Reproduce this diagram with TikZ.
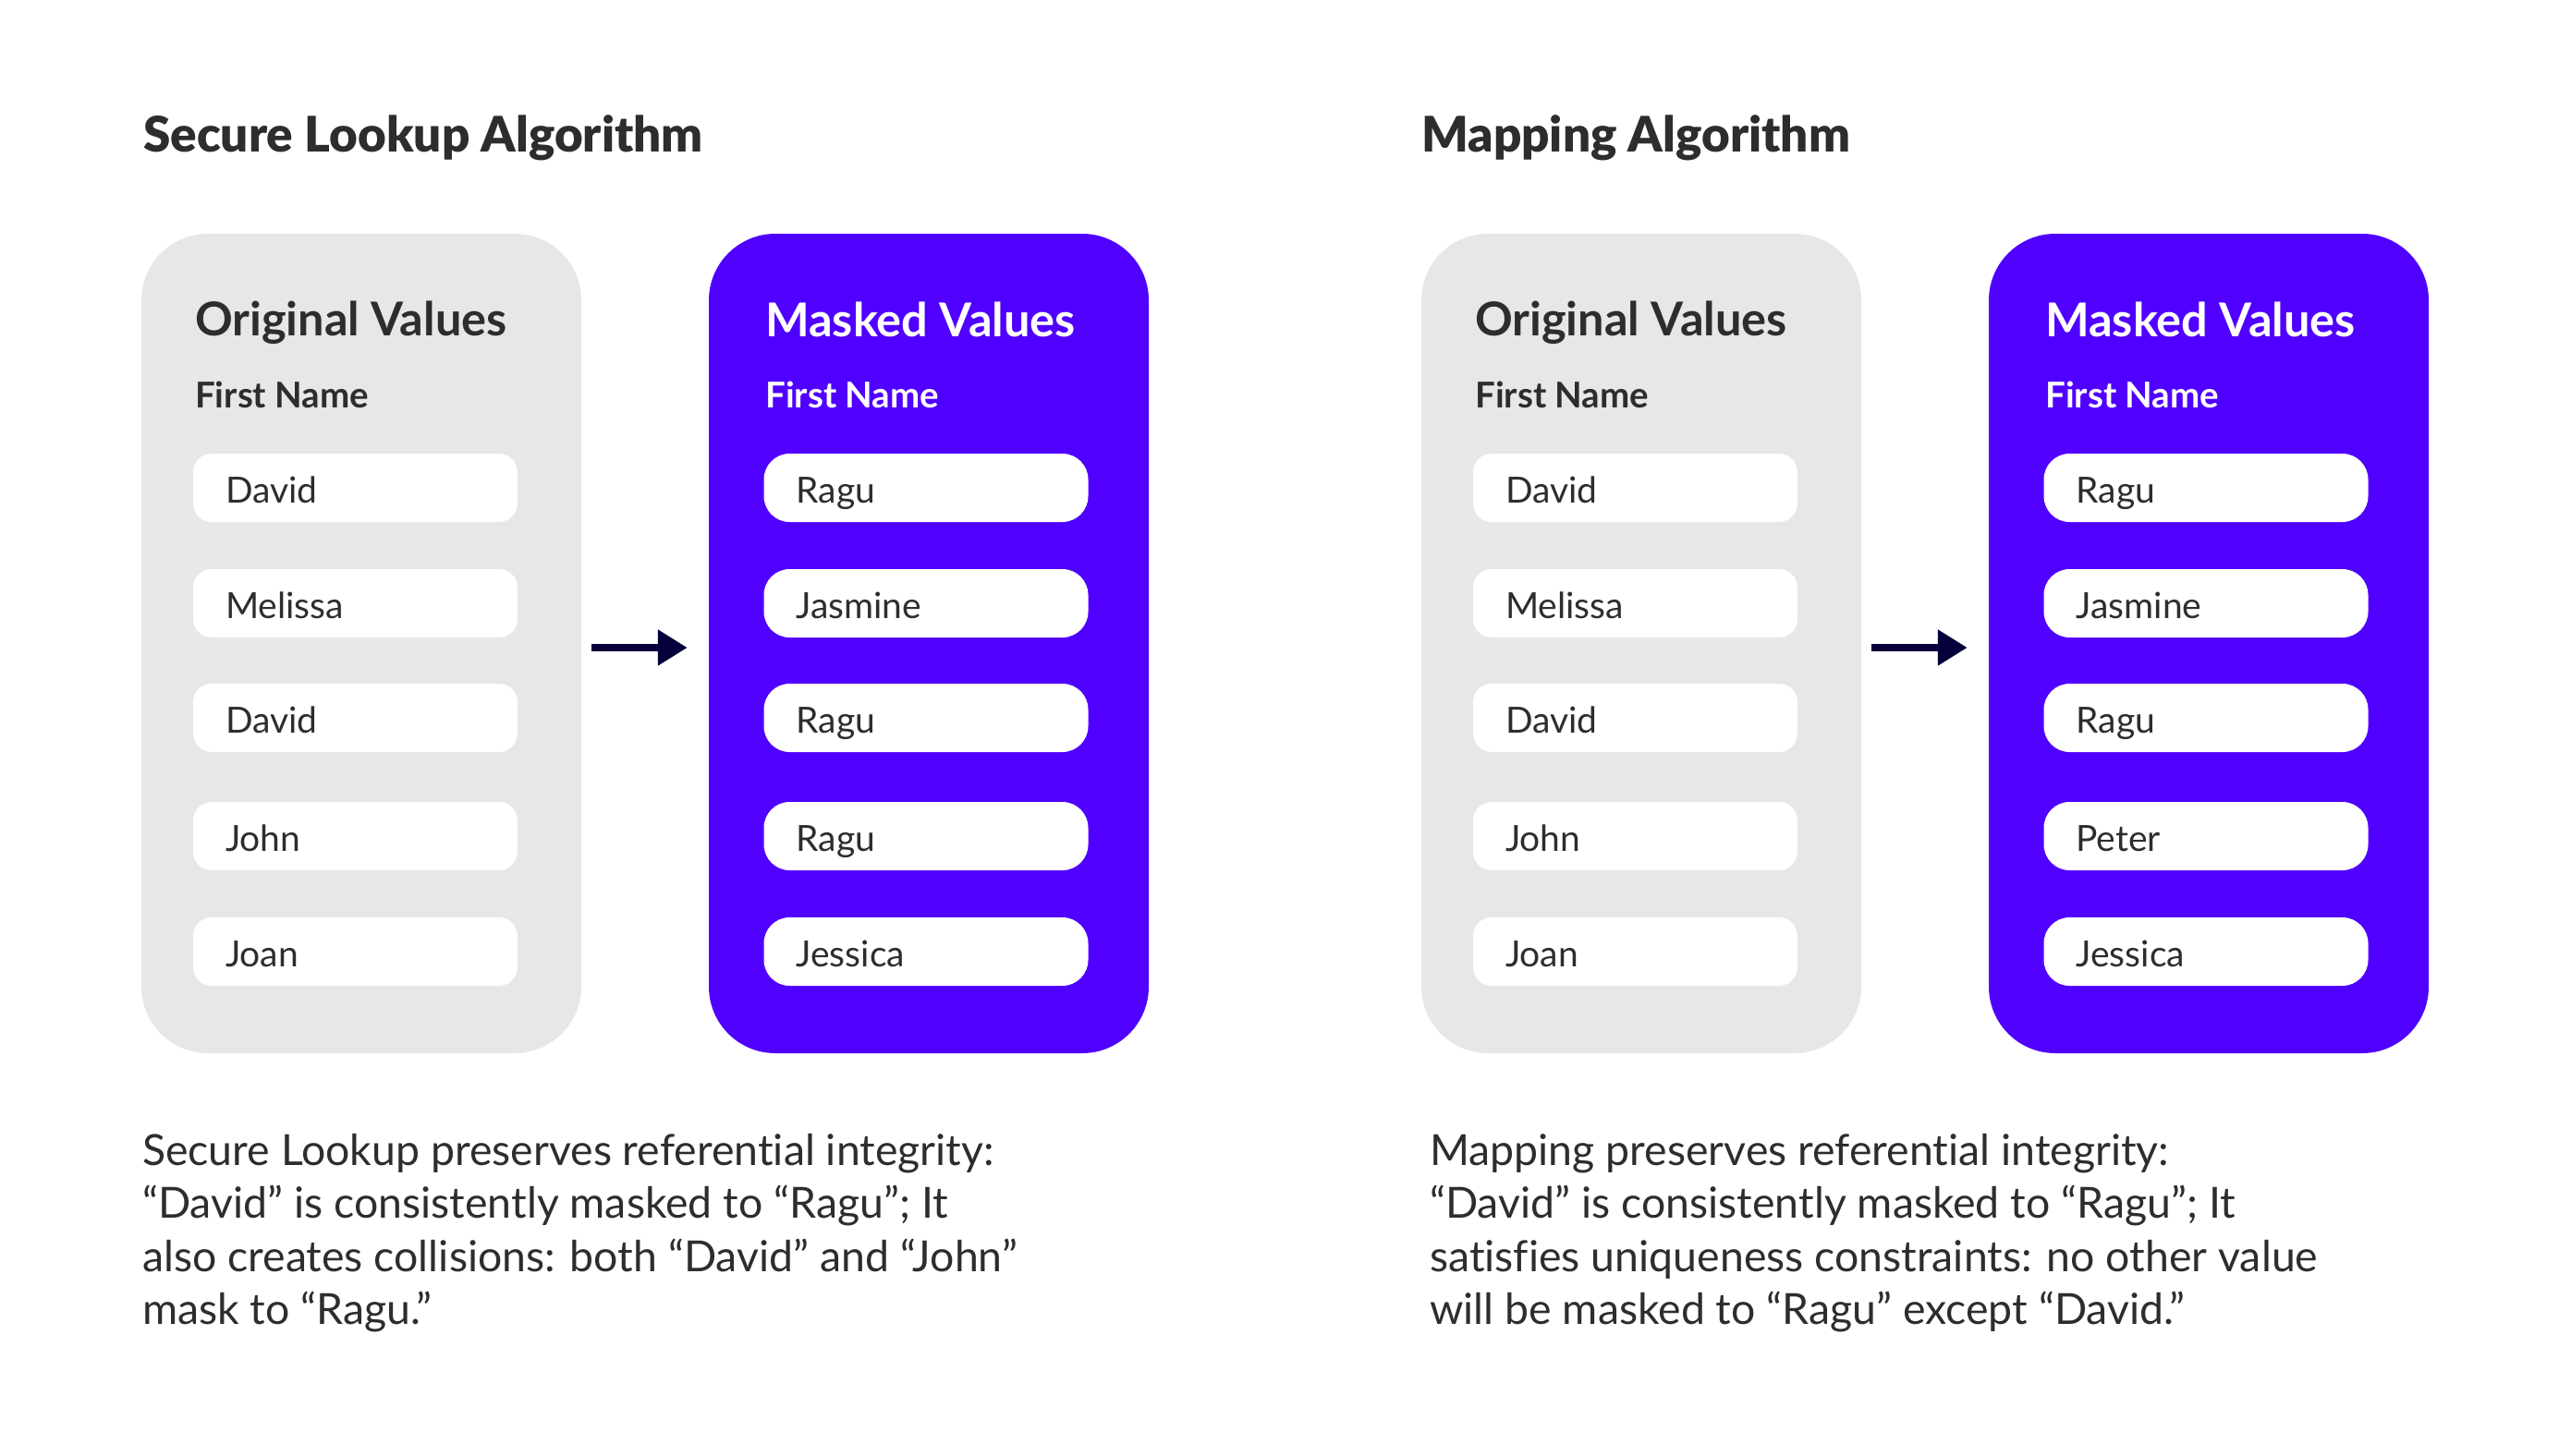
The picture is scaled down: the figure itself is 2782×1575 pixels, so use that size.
\documentclass[tikz,border=0pt]{standalone}
\usepackage{fontspec}
\setmainfont{Lato}[Ligatures={TeX,NoCommon}]
\newfontfamily\heavyfont{Lato Black}[Ligatures={TeX,NoCommon}]
\usetikzlibrary{arrows.meta}
\definecolor{pgray}{HTML}{E6E7E9}
\definecolor{ppurple}{HTML}{5000FF}
\definecolor{ptext}{HTML}{2D2D2D}
\definecolor{pnavy}{HTML}{05003A}
\begin{document}
\begin{tikzpicture}[x=1pt,y=-1pt,
  panel/.style={rounded corners=72pt, minimum width=476pt, minimum height=887pt, inner sep=0pt},
  graypanel/.style={panel, fill=pgray},
  purplepanel/.style={panel, fill=ppurple},
  itembox/.style={rounded corners=#1, fill=white, text width=281pt, inner xsep=35pt, inner ysep=0pt,
     minimum height=74pt, align=left, text height=36pt, text depth=4pt, text=ptext,
     font=\fontsize{39}{45}\selectfont},
  itembox/.default=20pt,
  title/.style={anchor=base west, inner sep=0pt, text=ptext, font=\fontsize{53}{60}\heavyfont},
  header/.style={anchor=base west, inner sep=0pt, font=\fontsize{50.5}{56}\selectfont\bfseries},
  subheader/.style={anchor=base west, inner sep=0pt, font=\fontsize{38.5}{44}\selectfont\bfseries},
  para/.style={anchor=base west, inner sep=0pt, text=ptext, font=\fontsize{46.4}{57.5}\selectfont},
  flow/.style={draw=pnavy, line width=8pt, -{Triangle[length=32pt,width=37pt]}, shorten <=11pt, shorten >=23pt}
]
\useasboundingbox[fill=white] (0,0) rectangle (2782,1575);

\node[title] (t1) at (155,164) {Secure Lookup Algorithm};
\node[title] (t2) at (1538,164) {Mapping Algorithm};

\foreach \s/\dx/\four in {L/0/Ragu, R/1385/Peter}{
  \begin{scope}[xshift=\dx]
    \node[graypanel] (g\s) at (391,696.5) {};
    \node[purplepanel] (p\s) at (1005,696.5) {};
    \node[header, text=ptext] (oh\s) at (211,363) {Original Values};
    \node[subheader, text=ptext] (of\s) at (211,441) {First Name};
    \node[header, text=white] (mh\s) at (828,364) {Masked Values};
    \node[subheader, text=white] (mf\s) at (828,441) {First Name};
    \foreach \yy/\o/\m [count=\i] in {528/David/Ragu, 653/Melissa/Jasmine, 777/David/Ragu, 905/John/\four, 1030/Joan/Jessica}{
      \node[itembox] (o\s\i) at (384.5,\yy) {\o};
      \node[itembox=28pt] (m\s\i) at (1002,\yy) {\m};
    }
    \draw[flow] ([yshift=-4.5pt]g\s.east) -- ([yshift=-4.5pt]p\s.west);
  \end{scope}
}

\node[para] (a1) at (154,1261) {Secure Lookup preserves referential integrity:};
\node[para] (a2) at (154,1318.5) {“David” is consistently masked to “Ragu”; It};
\node[para] (a3) at (154,1376) {also creates collisions: both “David” and “John”};
\node[para] (a4) at (154,1433.5) {mask to “Ragu.”};

\node[para] (b1) at (1547,1261) {Mapping preserves referential integrity:};
\node[para] (b2) at (1547,1318.5) {“David” is consistently masked to “Ragu”; It};
\node[para] (b3) at (1547,1376) {satisfies uniqueness constraints: no other value};
\node[para] (b4) at (1547,1433.5) {will be masked to “Ragu” except “David.”};
\end{tikzpicture}
\end{document}
